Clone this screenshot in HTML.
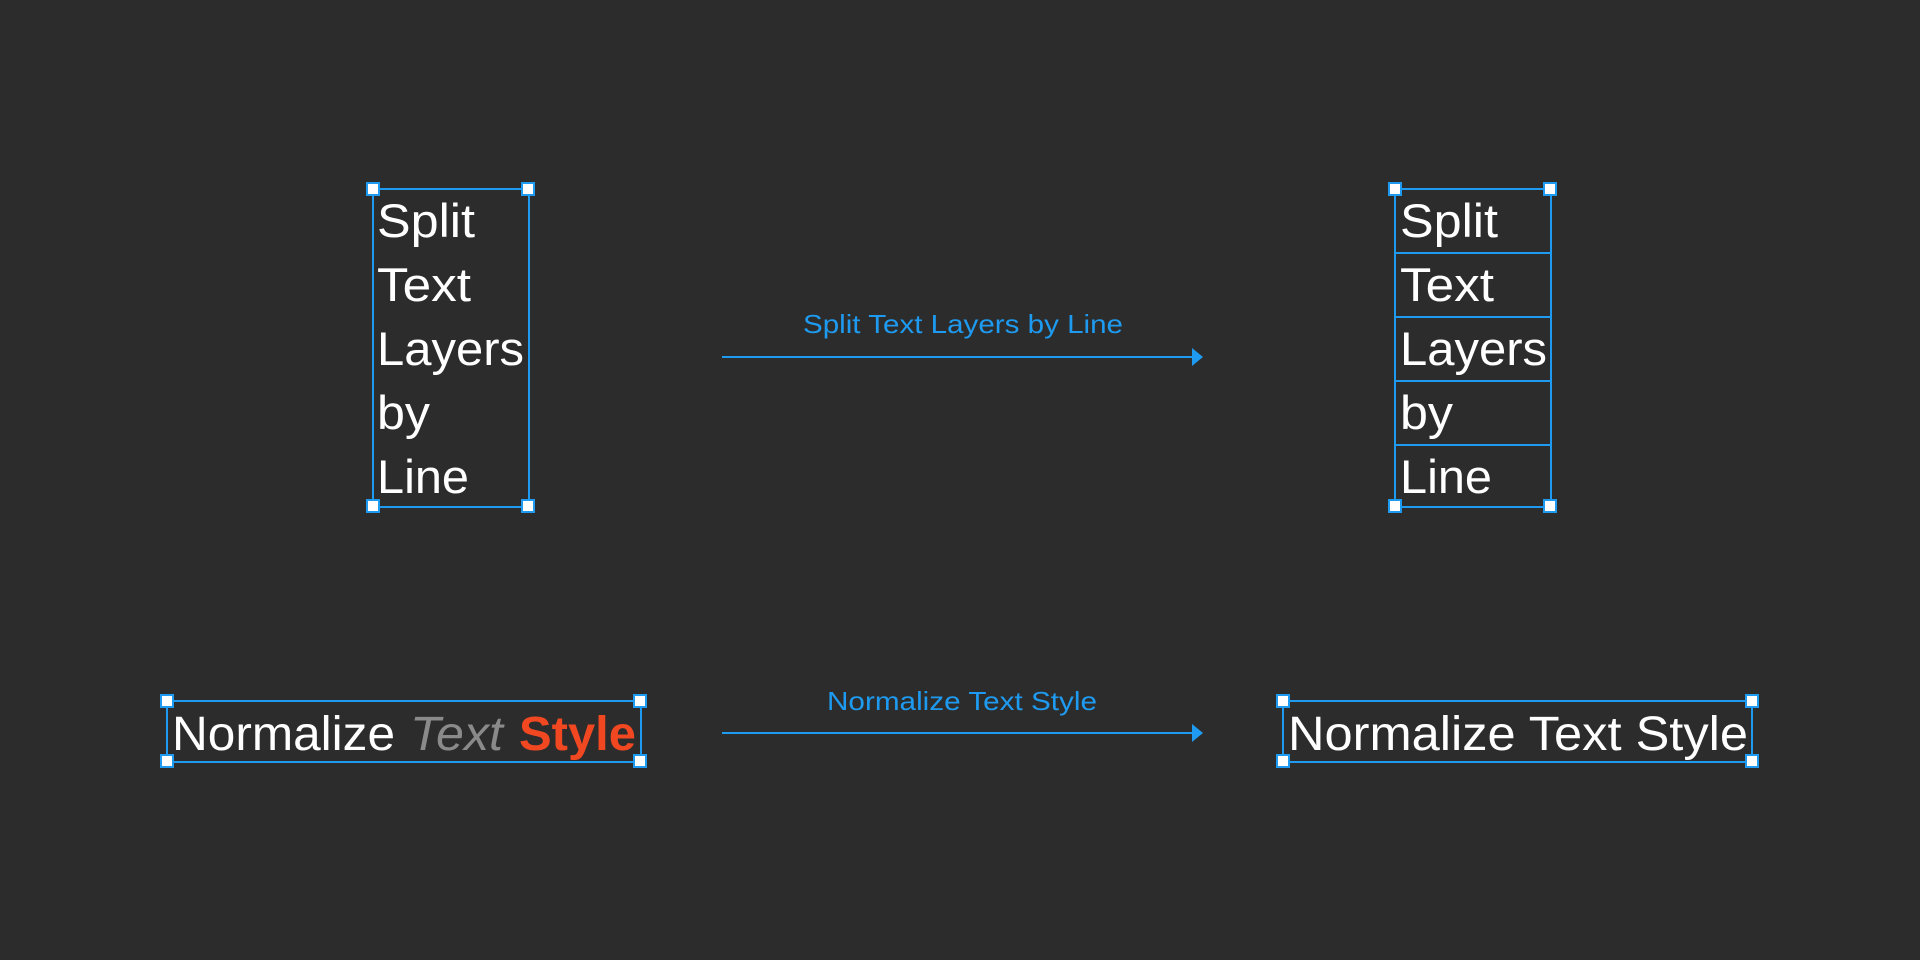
<!DOCTYPE html>
<html><head><meta charset="utf-8"><style>
html,body{margin:0;padding:0;background:#2c2c2c;}
svg{display:block;}
text{font-family:"Liberation Sans",sans-serif;}
</style></head><body>
<svg width="1920" height="960" viewBox="0 0 1920 960">
<rect width="1920" height="960" fill="#2c2c2c"/>

<g fill="#ffffff" font-size="47">
  <rect x="373" y="189" width="156" height="318" fill="none" stroke="#1e9bf0" stroke-width="2"/>
  <text x="377" y="237" textLength="98" lengthAdjust="spacingAndGlyphs">Split</text>
  <text x="377" y="301" textLength="94" lengthAdjust="spacingAndGlyphs">Text</text>
  <text x="377" y="365" textLength="147" lengthAdjust="spacingAndGlyphs">Layers</text>
  <text x="377" y="429" textLength="53" lengthAdjust="spacingAndGlyphs">by</text>
  <text x="377" y="493" textLength="92" lengthAdjust="spacingAndGlyphs">Line</text>
</g>

<g fill="#ffffff" font-size="47">
  <rect x="1395" y="189" width="156" height="318" fill="none" stroke="#1e9bf0" stroke-width="2"/>
  <g stroke="#1e9bf0" stroke-width="2">
    <line x1="1395" y1="253" x2="1551" y2="253"/>
    <line x1="1395" y1="317" x2="1551" y2="317"/>
    <line x1="1395" y1="381" x2="1551" y2="381"/>
    <line x1="1395" y1="445" x2="1551" y2="445"/>
  </g>
  <text x="1400" y="237" textLength="98" lengthAdjust="spacingAndGlyphs">Split</text>
  <text x="1400" y="301" textLength="94" lengthAdjust="spacingAndGlyphs">Text</text>
  <text x="1400" y="365" textLength="147" lengthAdjust="spacingAndGlyphs">Layers</text>
  <text x="1400" y="429" textLength="53" lengthAdjust="spacingAndGlyphs">by</text>
  <text x="1400" y="493" textLength="92" lengthAdjust="spacingAndGlyphs">Line</text>
</g>

<g fill="#1e9bf0">
  <text x="803" y="333" font-size="26" textLength="320" lengthAdjust="spacingAndGlyphs">Split Text Layers by Line</text>
  <line x1="722" y1="357" x2="1194" y2="357" stroke="#1e9bf0" stroke-width="2"/>
  <polygon points="1192,348 1203,357 1192,366"/>
</g>

<g fill="#1e9bf0">
  <text x="827" y="710" font-size="26" textLength="270" lengthAdjust="spacingAndGlyphs">Normalize Text Style</text>
  <line x1="722" y1="733" x2="1194" y2="733" stroke="#1e9bf0" stroke-width="2"/>
  <polygon points="1192,724 1203,733 1192,742"/>
</g>

<g font-size="48">
  <rect x="167" y="701" width="474" height="61" fill="none" stroke="#1e9bf0" stroke-width="2"/>
  <text x="172" y="750" fill="#ffffff" textLength="223" lengthAdjust="spacingAndGlyphs">Normalize</text>
  <text x="410" y="750" fill="#8a8a8a" font-style="italic" textLength="93" lengthAdjust="spacingAndGlyphs">Text</text>
  <text x="519" y="750" fill="#f24822" font-weight="bold" textLength="117" lengthAdjust="spacingAndGlyphs">Style</text>
</g>

<g font-size="48">
  <rect x="1283" y="701" width="469" height="61" fill="none" stroke="#1e9bf0" stroke-width="2"/>
  <text x="1288" y="750" fill="#ffffff" textLength="460" lengthAdjust="spacingAndGlyphs">Normalize Text Style</text>
</g>

<g fill="#ffffff" stroke="#1e9bf0" stroke-width="2">
  <rect x="367" y="183" width="12" height="12"/>
  <rect x="522" y="183" width="12" height="12"/>
  <rect x="367" y="500" width="12" height="12"/>
  <rect x="522" y="500" width="12" height="12"/>
  <rect x="1389" y="183" width="12" height="12"/>
  <rect x="1544" y="183" width="12" height="12"/>
  <rect x="1389" y="500" width="12" height="12"/>
  <rect x="1544" y="500" width="12" height="12"/>
  <rect x="161" y="695" width="12" height="12"/>
  <rect x="634" y="695" width="12" height="12"/>
  <rect x="161" y="755" width="12" height="12"/>
  <rect x="634" y="755" width="12" height="12"/>
  <rect x="1277" y="695" width="12" height="12"/>
  <rect x="1746" y="695" width="12" height="12"/>
  <rect x="1277" y="755" width="12" height="12"/>
  <rect x="1746" y="755" width="12" height="12"/>
</g>
</svg>
</body></html>
